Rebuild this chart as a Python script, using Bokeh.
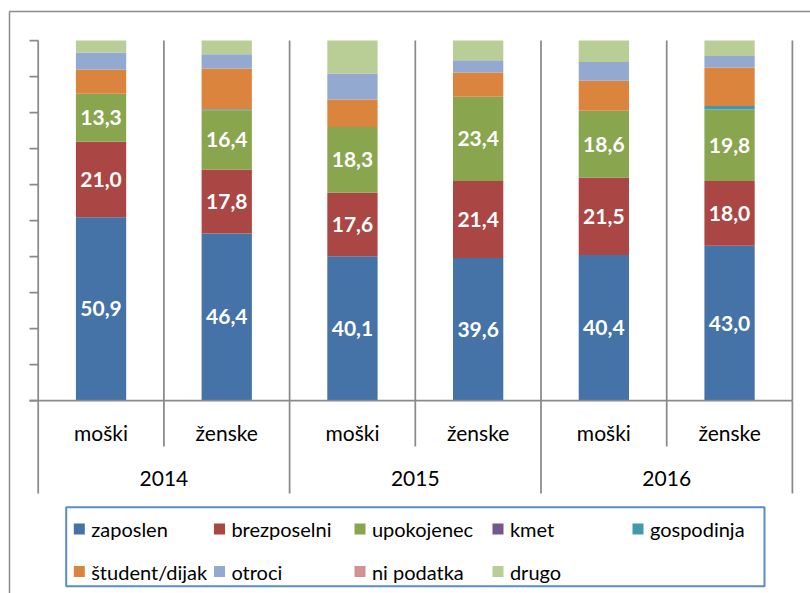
from bokeh.plotting import figure
from bokeh.models import ColumnDataSource, Range1d
from bokeh.core.properties import value
from bokeh.embed import file_html
from bokeh.resources import INLINE

# ---------------- data ----------------
years = ["2014", "2015", "2016"]
sexes = ["moški", "ženske"]

series_keys = ["zaposlen", "brezposelni", "upokojenec", "kmet", "gospodinja",
               "student", "otroci", "ni_podatka", "drugo"]
series_labels = ["zaposlen", "brezposelni", "upokojenec", "kmet", "gospodinja",
                 "študent/dijak", "otroci", "ni podatka", "drugo"]
series_colors = ["#4572A7", "#AA4643", "#89A54E", "#71588F", "#4198AF",
                 "#DB843D", "#93A9CF", "#D19392", "#B9CD96"]

# order of bars: 2014 moški, 2014 ženske, 2015 moški, 2015 ženske, 2016 moški, 2016 ženske
zaposlen = [50.9, 46.4, 40.1, 39.6, 40.4, 43.0]
brezposelni = [21.0, 17.8, 17.6, 21.4, 21.5, 18.0]
upokojenec = [13.3, 16.4, 18.3, 23.4, 18.6, 19.8]
kmet = [0.0, 0.0, 0.0, 0.0, 0.0, 0.0]
gospodinja = [0.0, 0.3, 0.0, 0.0, 0.0, 1.0]
student = [6.7, 11.3, 7.6, 6.7, 8.3, 10.7]
otroci = [4.8, 4.0, 7.2, 3.4, 5.2, 3.2]
ni_podatka = [0.0, 0.0, 0.0, 0.0, 0.0, 0.0]
drugo = [3.3, 3.8, 9.2, 5.5, 6.0, 4.3]

labelled = ["zaposlen", "brezposelni", "upokojenec"]
y_ticks = [0, 10, 20, 30, 40, 50, 60, 70, 80, 90, 100]

# ---------------- layout (page pixels -> data) ----------------
W, H = 810, 593
FRAME_LEFT, FRAME_TOP = 0, 0
X0_PX, CAT_PX = 37.7, 125.7      # left of category axis, width of one category
Y0_PX, PCT_PX = 400.0, 3.6       # y pixel of 0 %, pixels per 1 %


def dx(px):
    return (px - X0_PX) / CAT_PX


def dy(py):
    return (Y0_PX - py) / PCT_PX


FONT = value("Lato")
GRID = "#8a8a8a"

p = figure(width=W, height=H, output_backend="svg", toolbar_location=None,
           x_range=Range1d(dx(FRAME_LEFT), dx(FRAME_LEFT + W)),
           y_range=Range1d(dy(FRAME_TOP + H), dy(FRAME_TOP)),
           x_axis_location=None, y_axis_location=None, min_border=0)
p.grid.visible = False
p.outline_line_color = None
p.background_fill_color = "white"
p.border_fill_color = "white"

n_bars = len(years) * len(sexes)
xs = [i + 0.5 for i in range(n_bars)]
data = {"x": xs}
for k in series_keys:
    data[k] = globals()[k]
src = ColumnDataSource(data)

# outer chart border (left and top visible)
p.segment(x0=[dx(9), dx(9)], y0=[dy(11), dy(11)], x1=[dx(9), dx(830)], y1=[dy(620), dy(11)],
          line_color="#8c8c8c", line_width=1.5)

# vertical gridlines at category boundaries
bounds = list(range(1, n_bars + 1))
p.segment(x0=bounds, y0=[0] * len(bounds), x1=bounds, y1=[100] * len(bounds),
          line_color=GRID, line_width=1.75)

# bars
p.vbar_stack(series_keys, x="x", width=0.4, color=series_colors, source=src,
             line_color=None)

# y axis line and ticks
p.segment(x0=[0], y0=[0], x1=[0], y1=[100], line_color=GRID, line_width=1.75)
p.segment(x0=[dx(29)] * len(y_ticks), y0=y_ticks, x1=[0] * len(y_ticks), y1=y_ticks,
          line_color=GRID, line_width=1.75)
# x axis line
p.segment(x0=[dx(29)], y0=[0], x1=[n_bars], y1=[0], line_color=GRID, line_width=1.75)

# category separators in axis area
long_sep = list(range(0, n_bars + 1, len(sexes)))
short_sep = [b for b in range(1, n_bars) if b % len(sexes) != 0]
p.segment(x0=long_sep, y0=[0] * len(long_sep), x1=long_sep, y1=[dy(493)] * len(long_sep),
          line_color=GRID, line_width=1.75)
p.segment(x0=short_sep, y0=[0] * len(short_sep), x1=short_sep, y1=[dy(446)] * len(short_sep),
          line_color=GRID, line_width=1.75)

# data labels
lx, ly, lt = [], [], []
for i in range(n_bars):
    cum = 0.0
    for k in series_keys:
        v = globals()[k][i]
        if k in labelled:
            lx.append(xs[i])
            ly.append(cum + v / 2)
            lt.append(f"{v:.1f}".replace(".", ","))
        cum += v
p.text(x=lx, y=ly, text=lt, text_color="white", text_font=FONT, text_font_style="bold",
       text_font_size="21px", text_align="center", text_baseline="middle")

# category labels
sx = xs
st = [s for y in years for s in sexes]
p.text(x=sx, y=[dy(432)] * len(sx), text=st, text_color="black", text_font=FONT,
       text_font_size="21px", text_align="center", text_baseline="middle")
yx = [len(sexes) * j + len(sexes) / 2 for j in range(len(years))]
p.text(x=yx, y=[dy(477.5)] * len(yx), text=years, text_color="black", text_font=FONT,
       text_font_size="21px", text_align="center", text_baseline="middle")

# legend box
p.quad(left=[dx(65.7)], right=[dx(764)], top=[dy(506.7)], bottom=[dy(585.7)],
       fill_color=None, line_color="#5B8BC9", line_width=2)
col_px = [73.3, 213.5, 354.0, 492.0, 632.0]
row_px = [528.5, 571.0]
sw_l, sw_r, sw_t, sw_b, tx, ty = [], [], [], [], [], []
for idx, lab in enumerate(series_labels):
    r, c = divmod(idx, len(col_px))
    left = col_px[c]
    cy = row_px[r]
    sw_l.append(dx(left))
    sw_r.append(dx(left + 11))
    sw_t.append(dy(cy - 5.5))
    sw_b.append(dy(cy + 5.5))
    tx.append(dx(left + 17.4))
    ty.append(dy(cy))
p.quad(left=sw_l, right=sw_r, top=sw_t, bottom=sw_b, fill_color=series_colors, line_color=None)
p.text(x=tx, y=ty, text=series_labels, text_color="black", text_font=FONT,
       text_font_size="20px", text_align="left", text_baseline="middle")

open("out.html", "w").write(file_html(p, INLINE))
